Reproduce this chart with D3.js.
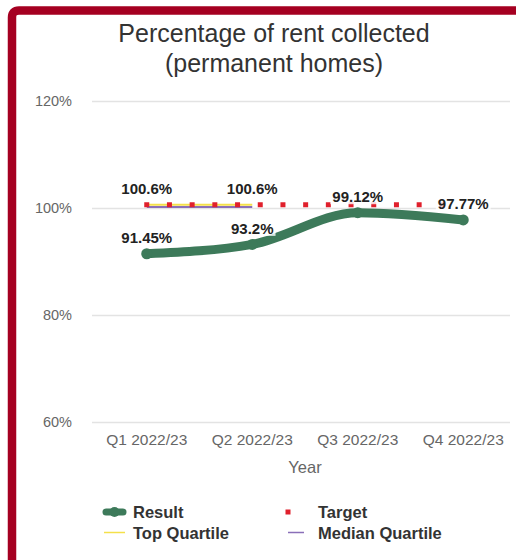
<!DOCTYPE html>
<html>
<head>
<meta charset="utf-8">
<script src="https://cdn.jsdelivr.net/npm/d3@7"></script>
<style>
  html, body { margin: 0; padding: 0; background: #fff; }
  svg { display: block; font-family: "Liberation Sans", Arial, sans-serif; }
</style>
</head>
<body>
<svg id="chart" width="516" height="560"></svg>
<script>
// Quarterly rent collection, permanent homes
const quarters = ["Q1 2022/23", "Q2 2022/23", "Q3 2022/23", "Q4 2022/23"];
const resultValues = [91.45, 93.2, 99.12, 97.77];
const targetValues = [100.6, 100.6, 100.6, 100.6];
const topQuartileValues = [100.6, 100.6];
const medianQuartileValues = [100.2, 100.2];
const yTicks = [60, 80, 100, 120];

const svg = d3.select("#chart");
const W = 516, H = 560;

// frame accent along the top and left edges
const r = 7;
svg.append("path")
  .attr("d", `M12,${H} L12,${10.5 + r} Q12,10.5 ${12 + r},10.5 L${W + 4},10.5`)
  .attr("fill", "none")
  .attr("stroke", "#a50021")
  .attr("stroke-width", 8.5);

// title
const title = svg.append("text")
  .attr("text-anchor", "middle")
  .attr("fill", "#333")
  .style("font-size", "25px");
title.append("tspan").attr("x", 274).attr("y", 42).text("Percentage of rent collected");
title.append("tspan").attr("x", 274).attr("y", 72).text("(permanent homes)");

const x = d3.scaleBand().domain(quarters).range([94, 516]);
const y = d3.scaleLinear().domain([60, 120]).range([422, 101]);
const cx = d => x(d) + x.bandwidth() / 2;

// y axis grid and labels
const yAxis = d3.axisLeft(y)
  .tickValues(yTicks)
  .tickSize(-(510 - 92))
  .tickPadding(20)
  .tickFormat(d => d + "%");
const gy = svg.append("g").attr("transform", "translate(92,0)").call(yAxis);
gy.select(".domain").remove();
gy.selectAll(".tick line").attr("stroke", "#e3e3e3").attr("stroke-width", 1.5);
gy.selectAll(".tick text")
  .attr("fill", "#666")
  .style("font-size", "14.5px")
  .style("font-family", "Liberation Sans, Arial, sans-serif");

// x axis labels
const xAxis = d3.axisBottom(x).tickSize(0).tickPadding(12);
const gx = svg.append("g").attr("transform", "translate(0,422)").call(xAxis);
gx.select(".domain").remove();
gx.selectAll(".tick text")
  .attr("fill", "#666")
  .style("font-size", "15.5px")
  .style("font-family", "Liberation Sans, Arial, sans-serif");

svg.append("text")
  .attr("x", 305).attr("y", 473)
  .attr("text-anchor", "middle")
  .attr("fill", "#666")
  .style("font-size", "16.5px")
  .text("Year");

const flat = d3.line().x((d, i) => cx(quarters[i])).y(d => y(d));

// top quartile
svg.append("path")
  .datum(topQuartileValues)
  .attr("d", flat)
  .attr("fill", "none")
  .attr("stroke", "#f4e04a")
  .attr("stroke-width", 2);

// median quartile
svg.append("path")
  .datum(medianQuartileValues)
  .attr("d", flat)
  .attr("fill", "none")
  .attr("stroke", "#8a6fb8")
  .attr("stroke-width", 2);

// target (dotted squares)
svg.append("path")
  .datum(targetValues)
  .attr("d", flat)
  .attr("fill", "none")
  .attr("stroke", "#e0202c")
  .attr("stroke-width", 5)
  .attr("stroke-dasharray", "5 17.7")
  .attr("transform", "translate(-2.5,0)");

// result line
const green = "#3d7a5a";
svg.append("path")
  .datum(resultValues)
  .attr("d", d3.line().x((d, i) => cx(quarters[i])).y(d => y(d)).curve(d3.curveMonotoneX))
  .attr("fill", "none")
  .attr("stroke", green)
  .attr("stroke-width", 9)
  .attr("stroke-linecap", "round");

svg.selectAll(".pt")
  .data(resultValues)
  .join("circle")
  .attr("cx", (d, i) => cx(quarters[i]))
  .attr("cy", d => y(d))
  .attr("r", 5.5)
  .attr("fill", green);

// value labels
const labels = resultValues.map((v, i) => ({ q: quarters[i], v }))
  .concat(topQuartileValues.map((v, i) => ({ q: quarters[i], v })));

const lg = svg.append("g");
labels.forEach(d => {
  const g = lg.append("g").attr("transform", `translate(${cx(d.q)},${y(d.v) - 10.5})`);
  const t = g.append("text")
    .attr("text-anchor", "middle")
    .attr("fill", "#222")
    .style("font-size", "15px")
    .style("font-weight", "bold")
    .text(d3.format(".4~f")(d.v) + "%");
  const bb = t.node().getBBox();
  g.insert("rect", "text")
    .attr("x", bb.x - 2).attr("y", bb.y + 1)
    .attr("width", bb.width + 4).attr("height", bb.height - 2)
    .attr("fill", "#fff")
    .attr("fill-opacity", 0.8);
});

// legend
const leg = svg.append("g").style("font-size", "16.5px").style("font-weight", "bold").attr("fill", "#333");
// Result
leg.append("line").attr("x1", 106).attr("x2", 123).attr("y1", 512).attr("y2", 512)
  .attr("stroke", green).attr("stroke-width", 7).attr("stroke-linecap", "round");
leg.append("circle").attr("cx", 114.5).attr("cy", 512).attr("r", 5).attr("fill", green);
leg.append("text").attr("x", 133).attr("y", 518).text("Result");
// Target
leg.append("rect").attr("x", 285.5).attr("y", 509.5).attr("width", 5).attr("height", 5).attr("fill", "#e0202c");
leg.append("text").attr("x", 318).attr("y", 518).text("Target");
// Top Quartile
leg.append("line").attr("x1", 104).attr("x2", 125).attr("y1", 532.5).attr("y2", 532.5)
  .attr("stroke", "#f4e04a").attr("stroke-width", 1.5);
leg.append("text").attr("x", 133).attr("y", 538.5).text("Top Quartile");
// Median Quartile
leg.append("line").attr("x1", 288).attr("x2", 304).attr("y1", 532.5).attr("y2", 532.5)
  .attr("stroke", "#8a6fb8").attr("stroke-width", 1.5);
leg.append("text").attr("x", 318).attr("y", 538.5).text("Median Quartile");
</script>
</body>
</html>
